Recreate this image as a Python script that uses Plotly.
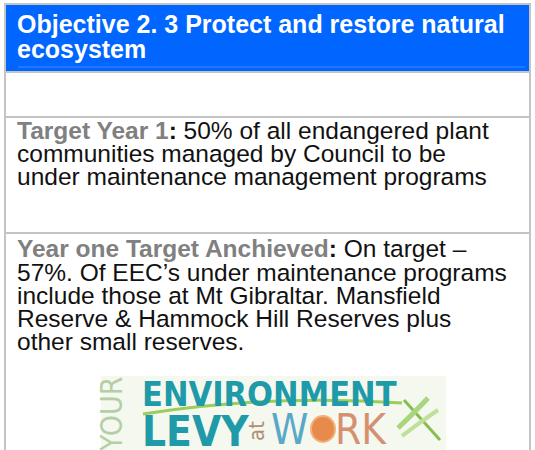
import plotly.graph_objects as go

W, H = 535, 450

header_lines = ["Objective 2. 3 Protect and restore natural", "ecosystem"]
target_label = "Target Year 1"
target_lines = ["50% of all endangered plant",
                "communities managed by Council to be",
                "under maintenance management programs"]
achieved_label = "Year one Target Anchieved"
achieved_lines = ["On target –",
                  "57%. Of EEC’s under maintenance programs",
                  "include those at Mt Gibraltar. Mansfield",
                  "Reserve & Hammock Hill Reserves plus",
                  "other small reserves."]
logo_top = "ENVIRONMENT"
logo_bottom = ["LEVY", "W", "RK"]
logo_at = "at"
logo_side = "YOUR"

FONT = "Liberation Sans, Arial, sans-serif"
NARROW = "DejaVu Sans Condensed, DejaVu Sans, sans-serif"
GRAY = "#c4c4c4"
BLUE = "#0066ff"
LABEL = "#808080"
TEXT = "#111111"
TEAL = "#1e9aa8"

shapes = []
ann = []

# header block and table rules
shapes.append(dict(type="rect", x0=5, x1=529, y0=5, y1=71, fillcolor=BLUE, line=dict(width=0), layer="below"))
shapes.append(dict(type="line", x0=18, x1=525, y0=67, y1=67, line=dict(color="#3d8bff", width=1)))
for (x0, y0, x1, y1) in [(4, 4, 531, 4), (5, 4, 5, 450), (530, 4, 530, 450),
                         (5, 72, 530, 72), (5, 117, 530, 117), (5, 233, 530, 233)]:
    shapes.append(dict(type="line", x0=x0, y0=y0, x1=x1, y1=y1, line=dict(color=GRAY, width=2)))

def line_ann(x, y, text, size, color=TEXT, family=FONT):
    ann.append(dict(x=x, y=y, xref="x", yref="y", text=text, showarrow=False,
                    xanchor="left", yanchor="middle",
                    font=dict(family=family, size=size, color=color)))

SZ = 24.5
for i, t in enumerate(header_lines):
    line_ann(15, 24 + i * 25, "<b>" + t + "</b>", 25, "white")

ys_t = [130, 153, 176]
for i, t in enumerate(target_lines):
    txt = t if i else f"<b><span style='color:{LABEL}'>{target_label}</span>:</b> " + t
    line_ann(15, ys_t[i], txt, SZ)

ys_a = [248, 272, 295, 318, 341]
for i, t in enumerate(achieved_lines):
    txt = t if i else f"<b><span style='color:{LABEL}'>{achieved_label}</span>:</b> " + t
    line_ann(15, ys_a[i], txt, SZ)

# logo (drawn approximation)
shapes.append(dict(type="rect", x0=101, x1=446, y0=376, y1=450, fillcolor="#f4f8ef", line=dict(width=0), layer="below"))
shapes.append(dict(type="path", path="M 143 414 Q 270 394 402 403", line=dict(color="#9ccc5a", width=3)))
ann.append(dict(x=111, y=414, xref="x", yref="y", text=logo_side, showarrow=False, textangle=-90,
                font=dict(family=NARROW, size=30, color="#b4cfa8")))
ann.append(dict(x=140, y=394, xref="x", yref="y", text="<b>" + logo_top + "</b>", showarrow=False,
                xanchor="left", yanchor="middle", font=dict(family=NARROW, size=34, color=TEAL)))
ann.append(dict(x=140, y=431, xref="x", yref="y", text="<b>" + logo_bottom[0] + "</b>", showarrow=False,
                xanchor="left", yanchor="middle", font=dict(family=NARROW, size=42, color=TEAL)))
ann.append(dict(x=256, y=431, xref="x", yref="y", text=logo_at, showarrow=False, textangle=-90,
                font=dict(family=NARROW, size=22, color="#b08f74")))
ann.append(dict(x=269, y=429, xref="x", yref="y", text=logo_bottom[1], showarrow=False,
                xanchor="left", yanchor="middle", font=dict(family=NARROW, size=42, color="#5aa8c8")))
shapes.append(dict(type="circle", x0=311, x1=335, y0=416, y1=442, fillcolor="#e88a4c",
                   line=dict(color="#f2b07a", width=2)))
ann.append(dict(x=333, y=429, xref="x", yref="y", text=logo_bottom[2], showarrow=False,
                xanchor="left", yanchor="middle", font=dict(family=NARROW, size=42, color="#d59070")))
# dragonfly
shapes.append(dict(type="line", x0=404, y0=400, x1=440, y1=440, line=dict(color="#86bf4f", width=3)))
shapes.append(dict(type="path", path="M 398 428 Q 412 415 428 398", line=dict(color="#a9d67c", width=5)))
shapes.append(dict(type="path", path="M 402 436 Q 420 422 438 410", line=dict(color="#bfe09a", width=4)))

fig = go.Figure()
fig.update_layout(width=W, height=H, margin=dict(l=0, r=0, t=0, b=0),
                  paper_bgcolor="white", plot_bgcolor="white",
                  xaxis=dict(range=[0, W], visible=False, fixedrange=True),
                  yaxis=dict(range=[H, 0], visible=False, fixedrange=True),
                  shapes=shapes, annotations=ann, showlegend=False)
fig.write_html("out.html", config={"displayModeBar": False},
               post_script="document.body.style.margin='0';document.body.style.overflow='hidden';")
